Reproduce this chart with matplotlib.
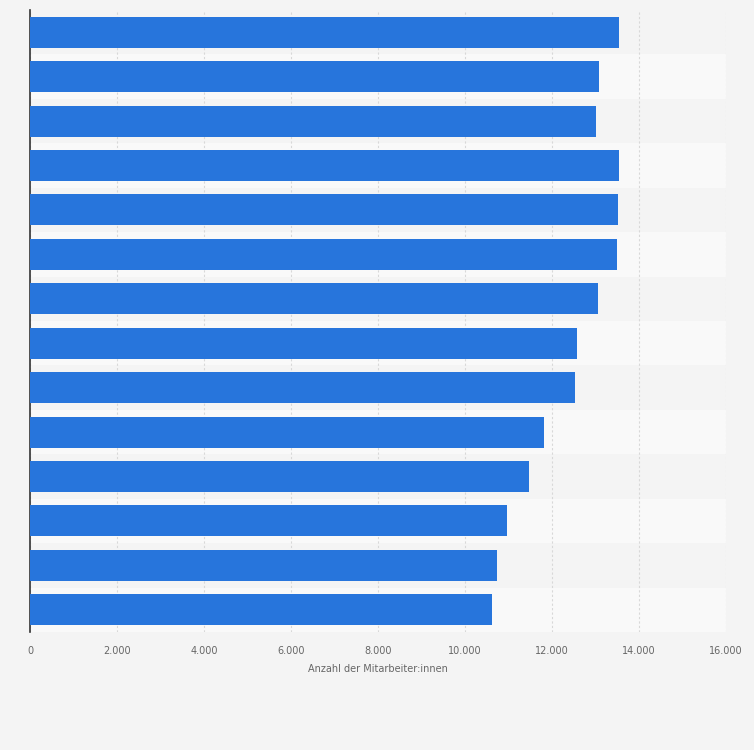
import matplotlib
matplotlib.use("Agg")
import matplotlib.pyplot as plt
from matplotlib.ticker import FuncFormatter

values = [13540, 13080, 13010, 13540, 13520, 13490, 13060, 12570, 12530, 11820, 11470, 10970, 10740, 10620]
xticks = [0, 2000, 4000, 6000, 8000, 10000, 12000, 14000, 16000]
xlabel = "Anzahl der Mitarbeiter:innen"

fig = plt.figure(figsize=(7.54, 7.5), dpi=100)
fig.patch.set_facecolor("#f4f4f4")
ax = fig.add_axes([30/754, 1-632/750, 696/754, 622/750])
ax.set_facecolor("#f4f4f4")
n = len(values)
ys = list(range(n))
for i in ys:
    ax.axhspan(i-0.5, i+0.5, color="#f4f4f4" if i % 2 == 0 else "#f9f9f9", zorder=0, lw=0)
ax.barh(ys, values, height=0.7, color="#2775dc", zorder=3)
ax.set_ylim(n-0.5, -0.5)
ax.set_xlim(0, 16000)
ax.set_xticks(xticks)
ax.xaxis.set_major_formatter(FuncFormatter(lambda v, p: f"{int(v):,}".replace(",", ".")))
ax.grid(axis="x", color="#d8d8d8", linestyle=(0, (2, 2)), linewidth=0.8, zorder=1)
ax.set_yticks([])
for s in ["top", "right", "bottom"]:
    ax.spines[s].set_visible(False)
ax.spines["left"].set_color("#333333")
ax.spines["left"].set_linewidth(1.2)
ax.tick_params(axis="x", length=0, labelsize=7, labelcolor="#666666", pad=10)
ax.set_xlabel(xlabel, fontsize=7, color="#666666", labelpad=6)
fig.savefig("out.png", dpi=100, facecolor=fig.get_facecolor())
